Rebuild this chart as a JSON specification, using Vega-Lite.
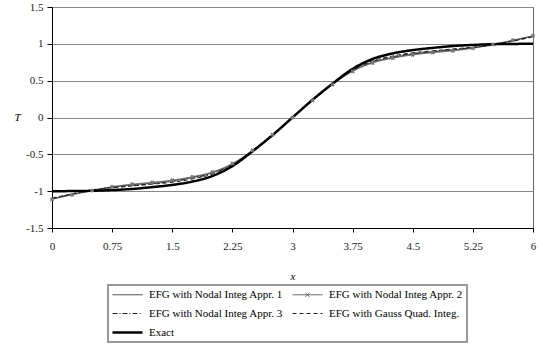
{
  "$schema": "https://vega.github.io/schema/vega-lite/v6.json",
  "autosize": {"type": "none"},
  "padding": {"left": 52, "top": 7, "right": 10, "bottom": 124},
  "width": 481,
  "height": 221,
  "background": "white",
  "config": {
    "view": {"stroke": "#666", "strokeWidth": 1},
    "font": "Liberation Serif",
    "axis": {
      "labelFont": "Liberation Serif",
      "labelFontSize": 11,
      "labelColor": "#222",
      "titleFont": "Liberation Serif",
      "titleFontSize": 11,
      "titleFontStyle": "italic",
      "titleFontWeight": "normal",
      "titleColor": "#000",
      "domainColor": "#000",
      "tickColor": "#000",
      "gridColor": "#888",
      "gridWidth": 1
    },
    "legend": {
      "labelFont": "Liberation Serif",
      "labelFontSize": 11,
      "labelColor": "#000"
    }
  },
  "data": {
    "values": [
      {"x": 0, "exact": -1.0, "a1": -1.105, "a2": -1.11, "a3": -1.1, "gq": -1.095},
      {"x": 0.25, "exact": -0.999, "a1": -1.045, "a2": -1.05, "a3": -1.04, "gq": -1.035},
      {"x": 0.5, "exact": -0.995, "a1": -0.99, "a2": -0.993, "a3": -0.985, "gq": -0.982},
      {"x": 0.75, "exact": -0.985, "a1": -0.945, "a2": -0.94, "a3": -0.95, "gq": -0.955},
      {"x": 1.0, "exact": -0.97, "a1": -0.915, "a2": -0.905, "a3": -0.925, "gq": -0.93},
      {"x": 1.25, "exact": -0.945, "a1": -0.89, "a2": -0.88, "a3": -0.9, "gq": -0.905},
      {"x": 1.5, "exact": -0.915, "a1": -0.86, "a2": -0.85, "a3": -0.87, "gq": -0.88},
      {"x": 1.75, "exact": -0.87, "a1": -0.815, "a2": -0.805, "a3": -0.825, "gq": -0.835},
      {"x": 2.0, "exact": -0.795, "a1": -0.75, "a2": -0.74, "a3": -0.76, "gq": -0.77},
      {"x": 2.25, "exact": -0.66, "a1": -0.635, "a2": -0.625, "a3": -0.64, "gq": -0.65},
      {"x": 2.5, "exact": -0.46, "a1": -0.45, "a2": -0.445, "a3": -0.452, "gq": -0.455},
      {"x": 2.75, "exact": -0.24, "a1": -0.235, "a2": -0.232, "a3": -0.236, "gq": -0.238},
      {"x": 3.0, "exact": 0, "a1": 0, "a2": 0, "a3": 0, "gq": 0},
      {"x": 3.25, "exact": 0.24, "a1": 0.235, "a2": 0.232, "a3": 0.236, "gq": 0.238},
      {"x": 3.5, "exact": 0.46, "a1": 0.45, "a2": 0.445, "a3": 0.452, "gq": 0.455},
      {"x": 3.75, "exact": 0.66, "a1": 0.635, "a2": 0.625, "a3": 0.64, "gq": 0.65},
      {"x": 4.0, "exact": 0.795, "a1": 0.75, "a2": 0.74, "a3": 0.76, "gq": 0.77},
      {"x": 4.25, "exact": 0.87, "a1": 0.815, "a2": 0.805, "a3": 0.825, "gq": 0.835},
      {"x": 4.5, "exact": 0.915, "a1": 0.86, "a2": 0.85, "a3": 0.87, "gq": 0.88},
      {"x": 4.75, "exact": 0.945, "a1": 0.89, "a2": 0.88, "a3": 0.9, "gq": 0.905},
      {"x": 5.0, "exact": 0.97, "a1": 0.915, "a2": 0.905, "a3": 0.925, "gq": 0.93},
      {"x": 5.25, "exact": 0.985, "a1": 0.945, "a2": 0.94, "a3": 0.95, "gq": 0.955},
      {"x": 5.5, "exact": 0.995, "a1": 0.99, "a2": 0.993, "a3": 0.985, "gq": 0.982},
      {"x": 5.75, "exact": 0.999, "a1": 1.045, "a2": 1.05, "a3": 1.04, "gq": 1.035},
      {"x": 6.0, "exact": 1.0, "a1": 1.105, "a2": 1.11, "a3": 1.1, "gq": 1.095}
    ]
  },
  "transform": [
    {"fold": ["a1", "a2", "a3", "gq", "exact"], "as": ["series", "T"]}
  ],
  "encoding": {
    "x": {
      "field": "x", "type": "quantitative",
      "scale": {"domain": [0, 6], "nice": false, "zero": false},
      "axis": {
        "title": "x",
        "values": [0, 0.75, 1.5, 2.25, 3, 3.75, 4.5, 5.25, 6],
        "grid": false,
        "tickSize": 4,
        "labelPadding": 8,
        "titleY": 48,
        "titleBaseline": "middle",
        "labelFlush": false,
        "labelExpr": "'' + datum.value"
      }
    },
    "y": {
      "field": "T", "type": "quantitative",
      "scale": {"domain": [-1.5, 1.5], "nice": false, "zero": false},
      "axis": {
        "title": "T",
        "values": [-1.5, -1, -0.5, 0, 0.5, 1, 1.5],
        "grid": true,
        "tickSize": 5,
        "labelPadding": 4,
        "titleAngle": 0,
        "titleX": -35,
        "titleY": 110,
        "titleAlign": "center",
        "titleBaseline": "middle",
        "labelFlush": false,
        "labelExpr": "'' + datum.value"
      }
    }
  },
  "layer": [
    {
      "mark": {"type": "line", "interpolate": "monotone"},
      "encoding": {
        "color": {
          "field": "series", "type": "nominal",
          "scale": {"domain": ["a1", "a2", "a3", "gq", "exact"], "range": ["#333333", "#555555", "#222222", "#222222", "#000000"]},
          "legend": {
            "title": null,
            "orient": "none",
            "legendX": 56,
            "legendY": 278,
            "columns": 2,
            "direction": "horizontal",
            "padding": 4,
            "rowPadding": 7,
            "columnPadding": 7,
            "labelOffset": 26,
            "symbolSize": 100,
            "strokeColor": "#999999",
            "labelExpr": "datum.value === 'a1' ? 'EFG with Nodal Integ Appr. 1' : datum.value === 'a2' ? 'EFG with Nodal Integ Appr. 2' : datum.value === 'a3' ? 'EFG with Nodal Integ Appr. 3' : datum.value === 'gq' ? 'EFG with Gauss Quad. Integ.' : 'Exact'",
            "encode": {
              "legend": {"update": {"strokeWidth": {"value": 2}}},
              "symbols": {"update": {
                "shape": {"signal": "datum.value === 'a2' ? 'M-1,0H5M1.6,-0.4L2.4,0.4M1.6,0.4L2.4,-0.4' : 'M-1,0H5'"},
                "stroke": {"value": "#000"},
                "fill": {"value": "transparent"},
                "strokeWidth": {"signal": "datum.value === 'exact' ? 2.5 : 1"}
              }}
            }
          }
        },
        "strokeDash": {
          "field": "series", "type": "nominal",
          "scale": {"domain": ["a1", "a2", "a3", "gq", "exact"], "range": [[1, 0], [1, 0], [5, 2, 1, 2], [4, 3], [1, 0]]}
        },
        "strokeWidth": {
          "condition": {"test": "datum.series === 'exact'", "value": 2.5},
          "value": 1
        }
      }
    },
    {
      "transform": [{"filter": "datum.series === 'a2'"}],
      "mark": {"type": "point", "shape": "cross", "angle": 45, "filled": true, "size": 18, "color": "#777777", "opacity": 1}
    }
  ]
}
